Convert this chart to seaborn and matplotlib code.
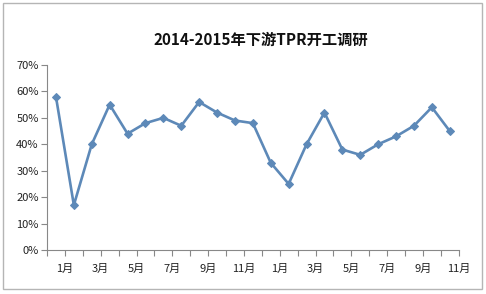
import matplotlib
matplotlib.use("Agg")
import matplotlib.pyplot as plt
import seaborn as sns
import pandas as pd
import numpy as np
from matplotlib.patches import Rectangle

title = "2014-2015年下游TPR开工调研"
months = ["2014-01", "2014-02", "2014-03", "2014-04", "2014-05", "2014-06",
          "2014-07", "2014-08", "2014-09", "2014-10", "2014-11", "2014-12",
          "2015-01", "2015-02", "2015-03", "2015-04", "2015-05", "2015-06",
          "2015-07", "2015-08", "2015-09", "2015-10", "2015-11"]
values = [58, 17, 40, 55, 44, 48, 50, 47, 56, 52, 49, 48,
          33, 25, 40, 52, 38, 36, 40, 43, 47, 54, 45]
tick_labels = ["1月", "3月", "5月", "7月", "9月", "11月",
               "1月", "3月", "5月", "7月", "9月", "11月"]
y_ticks = [0, 10, 20, 30, 40, 50, 60, 70]

sns.set_style("white")
plt.rcParams['font.family'] = ['Noto Sans CJK SC', 'DejaVu Sans']

df = pd.DataFrame({"idx": np.arange(len(values)), "val": values})

fig = plt.figure(figsize=(4.86, 2.94), dpi=100)
ax = fig.add_axes([47/486, 1-250/294, (458.7-47)/486, (250-65)/294])

sns.lineplot(data=df, x="idx", y="val", ax=ax, color="#5d89b8", linewidth=1.9,
             marker="D", markersize=4, markeredgecolor="#5d89b8")

ax.set_xlim(-0.5, len(values) - 0.5)
ax.set_ylim(0, 70)
ax.set_yticks(y_ticks)
ax.set_yticklabels([f"{v}%" for v in y_ticks], fontsize=8, color="#222222")
bounds = np.arange(-0.5, len(values), 1.0)
ax.set_xticks(bounds, minor=True)
ax.set_xticks(np.arange(0.5, len(values), 2.0))
ax.set_xticklabels(tick_labels, fontsize=8, color="#222222")
ax.tick_params(axis="x", which="both", direction="out", length=4, color="#888888", width=0.8, bottom=True, pad=6)
ax.tick_params(axis="y", direction="out", length=4, color="#888888", width=0.8, left=True, pad=2)
ax.set_xlabel("")
ax.set_ylabel("")
for s in ["top", "right"]:
    ax.spines[s].set_visible(False)
for s in ["left", "bottom"]:
    ax.spines[s].set_color("#888888")
    ax.spines[s].set_linewidth(0.8)

fig.text(261/486, 1-40/294, title, ha="center", va="center", fontsize=11, fontweight="bold", color="#111111")

fig.patches.append(Rectangle((3/486, 1-289/294), 479/486, 286/294, transform=fig.transFigure,
                             fill=False, edgecolor="#b5b5b5", linewidth=1))

fig.savefig("out.png", dpi=100)
